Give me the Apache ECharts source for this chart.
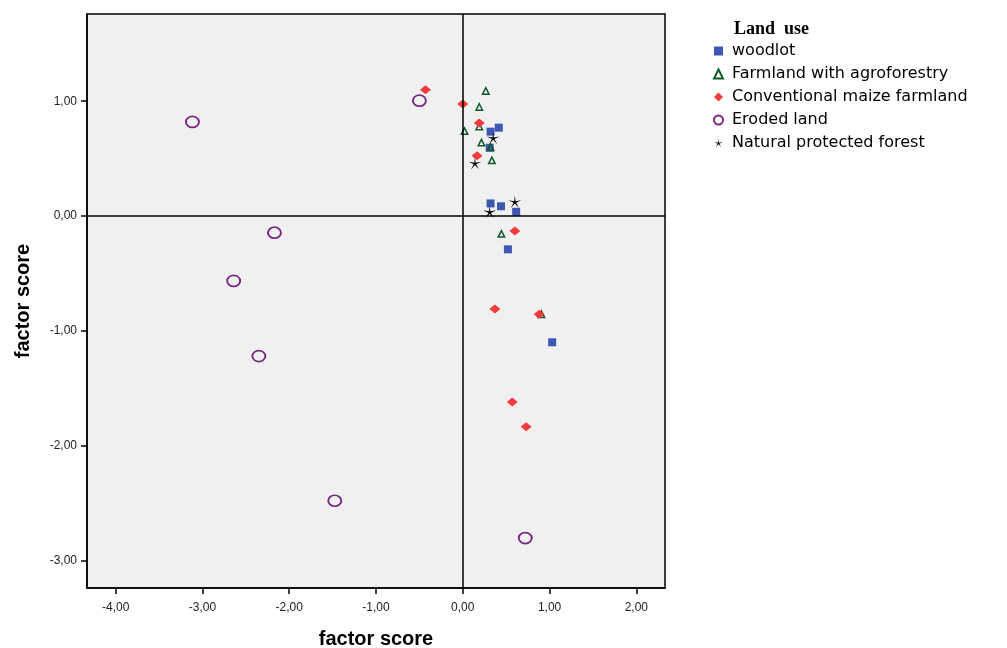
<!DOCTYPE html>
<html>
<head>
<meta charset="utf-8">
<script src="https://cdn.jsdelivr.net/npm/echarts@6/dist/echarts.min.js"></script>
<style>
html, body { margin: 0; padding: 0; background: #fff; }
#main { width: 1007px; height: 648px; }
</style>
</head>
<body>
<div id="main"></div>
<script>
var xTicks = [-4, -3, -2, -1, 0, 1, 2];
var yTicks = [-3, -2, -1, 0, 1];

var woodlot = [
    [0.415, 0.77], [0.32, 0.735], [0.31, 0.595], [0.32, 0.11],
    [0.44, 0.085], [0.615, 0.037], [0.52, -0.29], [1.03, -1.10]
];
var agroforestry = [
    [0.265, 1.09], [0.19, 0.95], [0.19, 0.78], [0.02, 0.74], [0.215, 0.64],
    [0.32, 0.60], [0.335, 0.485], [0.445, -0.155], [0.905, -0.855]
];
var maize = [
    [-0.43, 1.10], [0.0, 0.975], [0.19, 0.81], [0.165, 0.525], [0.60, -0.13],
    [0.37, -0.81], [0.88, -0.855], [0.57, -1.62], [0.73, -1.835]
];
var eroded = [
    [-3.115, 0.82], [-0.50, 1.005], [-2.17, -0.145], [-2.64, -0.565],
    [-2.35, -1.22], [-1.475, -2.48], [0.72, -2.805]
];
var natural = [
    [0.35, 0.68], [0.14, 0.46], [0.60, 0.125], [0.31, 0.037]
];

var starPath = 'path://M50 0 L55 42 L97.6 34.6 L59 53.5 L79.4 90.5 L50 59 L20.6 90.5 L41 53.5 L2.4 34.6 L45 42 Z';

function fmt(v) {
    return v.toFixed(2).replace('.', ',');
}

var myChart = echarts.init(document.getElementById('main'));
var option = {
    animation: false,
    backgroundColor: '#fff',
    title: {
        text: 'Land  use',
        left: 729,
        top: 15,
        textStyle: {
            fontFamily: 'Liberation Serif',
            fontWeight: 'bold',
            fontSize: 18,
            color: '#000'
        }
    },
    legend: {
        orient: 'vertical',
        left: 708,
        top: 38,
        itemGap: 7,
        itemWidth: 9,
        itemHeight: 9,
        textStyle: {
            fontFamily: 'DejaVu Sans',
            fontSize: 16,
            color: '#000',
            padding: [0, 0, 0, 4]
        },
        data: ['woodlot', 'Farmland with agroforestry', 'Conventional maize farmland',
            'Eroded land', 'Natural protected forest']
    },
    grid: {
        show: true,
        left: 87,
        top: 14,
        width: 578,
        height: 574,
        outerBoundsMode: 'none',
        containLabel: false,
        backgroundColor: '#f0f0f0',
        borderColor: '#000',
        borderWidth: 1.5
    },
    xAxis: {
        type: 'value',
        min: -4.33,
        max: 2.33,
        name: 'factor score',
        nameLocation: 'middle',
        nameGap: 41,
        nameTextStyle: { fontFamily: 'Liberation Sans', fontWeight: 'bold', fontSize: 20, color: '#000' },
        axisLine: { show: true, onZero: false, lineStyle: { color: '#000', width: 1.5 } },
        axisTick: { show: true, length: 6, customValues: xTicks, lineStyle: { color: '#000', width: 1.5 } },
        axisLabel: {
            customValues: xTicks,
            formatter: fmt,
            margin: 14,
            fontFamily: 'Liberation Sans',
            fontSize: 12,
            color: '#222'
        },
        splitLine: { show: false }
    },
    yAxis: {
        type: 'value',
        min: -3.24,
        max: 1.76,
        name: 'factor score',
        nameLocation: 'middle',
        nameGap: 54,
        nameTextStyle: { fontFamily: 'Liberation Sans', fontWeight: 'bold', fontSize: 20, color: '#000' },
        axisLine: { show: true, onZero: false, lineStyle: { color: '#000', width: 1.5 } },
        axisTick: { show: true, length: 6, customValues: yTicks, lineStyle: { color: '#000', width: 1.5 } },
        axisLabel: {
            customValues: yTicks,
            formatter: fmt,
            margin: 10,
            fontFamily: 'Liberation Sans',
            fontSize: 12,
            color: '#222'
        },
        splitLine: { show: false }
    },
    series: [
        {
            name: 'woodlot',
            type: 'scatter',
            symbol: 'rect',
            symbolSize: 8,
            itemStyle: { color: '#3c58b4', opacity: 1 },
            data: woodlot,
            markLine: {
                silent: true,
                symbol: 'none',
                label: { show: false },
                lineStyle: { color: '#000', width: 1.5, type: 'solid' },
                data: [{ xAxis: 0 }, { yAxis: 0 }]
            }
        },
        {
            name: 'Farmland with agroforestry',
            type: 'scatter',
            symbol: 'triangle',
            symbolSize: 6.5,
            itemStyle: { color: 'rgba(0,0,0,0)', borderColor: '#0f5a28', borderWidth: 1.5, opacity: 1 },
            data: agroforestry
        },
        {
            name: 'Conventional maize farmland',
            type: 'scatter',
            symbol: 'diamond',
            symbolSize: [11, 9],
            itemStyle: { color: '#f23c3c', opacity: 1 },
            data: maize
        },
        {
            name: 'Eroded land',
            type: 'scatter',
            symbol: 'circle',
            symbolSize: [13, 11],
            itemStyle: { color: 'rgba(0,0,0,0)', borderColor: '#7b2783', borderWidth: 1.8, opacity: 1 },
            data: eroded
        },
        {
            name: 'Natural protected forest',
            type: 'scatter',
            symbol: starPath,
            symbolSize: 13,
            symbolKeepAspect: true,
            itemStyle: { color: '#000', opacity: 1 },
            data: natural
        }
    ]
};

myChart.setOption(option);
</script>
</body>
</html>
